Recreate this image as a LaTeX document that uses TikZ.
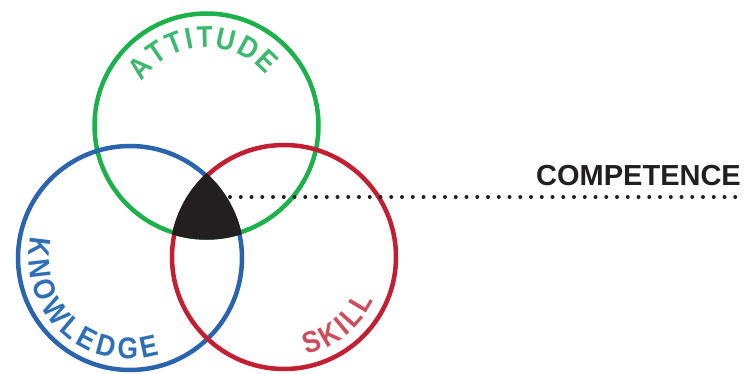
\documentclass[tikz,border=0pt]{standalone}
\usepackage{fontspec}
\setmainfont{Liberation Sans}
\newfontfamily\labfont{Liberation Sans}
\newfontfamily\arcfont{Liberation Sans}[FakeStretch=0.88]
\usetikzlibrary{calc,decorations.text}
\definecolor{attc}{HTML}{1DB14B}
\definecolor{attt}{HTML}{3CB96F}
\definecolor{knoc}{HTML}{2A63AE}
\definecolor{knot}{HTML}{2F6FB7}
\definecolor{skic}{HTML}{C21F32}
\definecolor{skit}{HTML}{CC4E5C}
\definecolor{coreblack}{HTML}{231F20}
\newcommand\arclabelfont{\arcfont\bfseries\fontsize{30}{30}\selectfont}
\tikzset{
  ring/.style={circle, draw=#1, line width=4.5pt, minimum size=224pt, inner sep=0pt, outer sep=0pt},
  dotline/.style={draw=coreblack, line width=4pt, line cap=round, dash pattern=on 0pt off 10.75pt},
  arclabel/.style={font=\arclabelfont, text=#1, decorate},
}
\begin{document}
\begin{tikzpicture}[x=1pt,y=1pt]
\useasboundingbox (0,0) rectangle (755,373);
% circles
\node[ring=attc] (att) at (206.5,247.5) {};
\node[ring=knoc] (kno) at (130,115) {};
\node[ring=skic] (ski) at (284,116) {};
% core intersection
\begin{scope}
  \clip (att.center) circle (114.25);
  \clip (kno.center) circle (114.25);
  \fill[coreblack] (ski.center) circle (114.25);
\end{scope}
\coordinate (core) at (230,176);
\coordinate (lineend) at (745,176);
\draw[dotline] (core) -- (lineend);
\node[anchor=base, font=\labfont\bfseries\fontsize{29}{29}\selectfont, text=coreblack, inner sep=0pt] (comp) at (638.5,188) {COMPETENCE};
% curved labels
\path[arclabel=attt, decoration={text along path, text={|\arclabelfont\color{attt}|ATTITUDE}, text align=fit to path}]
  ($(att.center)+(146:78)$) arc[start angle=146, end angle=40, radius=78];
\path[arclabel=knot, decoration={text along path, text={|\arclabelfont\color{knot}|KNOWLEDGE}, text align=fit to path}]
  ($(kno.center)+(168:101)$) arc[start angle=168, end angle=287, radius=101];
\path[arclabel=skit, decoration={text along path, text={|\arclabelfont\color{skit}|SKILL}, text align=fit to path}]
  ($(ski.center)+(283:100)$) arc[start angle=283, end angle=334, radius=100];
\end{tikzpicture}
\end{document}
